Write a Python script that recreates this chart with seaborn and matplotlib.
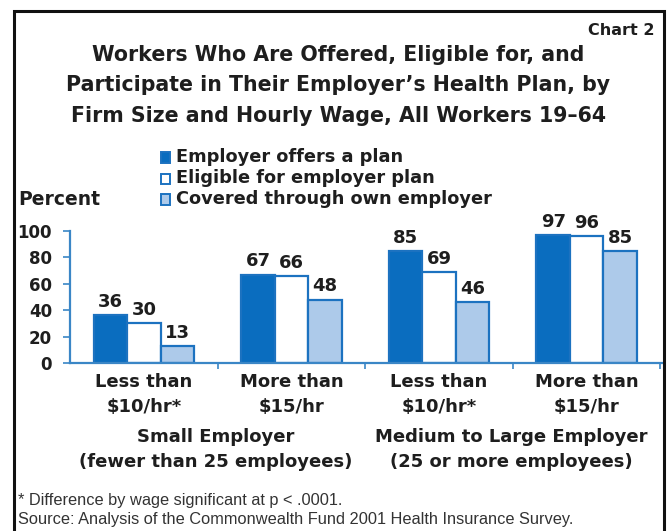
import matplotlib
matplotlib.use("Agg")
import matplotlib.pyplot as plt
from matplotlib.patches import Rectangle
from matplotlib.ticker import FixedLocator
import seaborn as sns
import pandas as pd

# Chart data
categories = ["Less than\n$10/hr*", "More than\n$15/hr", "Less than\n$10/hr*", "More than\n$15/hr"]
series = ["Employer offers a plan", "Eligible for employer plan", "Covered through own employer"]
offers = [36, 67, 85, 97]
eligible = [30, 66, 69, 96]
covered = [13, 48, 46, 85]
group_labels = ["Small Employer\n(fewer than 25 employees)",
                "Medium to Large Employer\n(25 or more employees)"]
y_ticks = [0, 20, 40, 60, 80, 100]

sns.set_theme(style="white")
plt.rcParams["font.family"] = ["DejaVu Sans"]
note_font = ["Liberation Sans", "DejaVu Sans"]

dark = "#0a6dbf"
light = "#adcaea"
edge = "#1c72c0"
axis_col = "#3a86c6"
ink = "#1e1e1e"
fills = [dark, "#ffffff", light]

# long-form table; x keyed by position so duplicate labels stay separate
rows = []
for i in range(len(categories)):
    for s, vals in zip(series, [offers, eligible, covered]):
        rows.append({"pos": i, "series": s, "value": vals[i]})
df = pd.DataFrame(rows)

fig = plt.figure(figsize=(6.7, 5.31), dpi=100)
ax = fig.add_axes([0.1045, 0.3164, 0.8835, 0.2486])

sns.barplot(data=df, x="pos", y="value", hue="series", hue_order=series,
            palette=fills, width=0.68, gap=0, ax=ax, legend=False,
            edgecolor=edge, linewidth=1.6, saturation=1)

for cont in ax.containers:
    ax.bar_label(cont, fontsize=13, fontweight="bold", color=ink, padding=3)

ax.set_xlim(-0.5, 3.51)
ax.set_ylim(0, 100)
ax.set_xlabel("")
ax.set_ylabel("")
ax.set_yticks(y_ticks)
ax.set_yticklabels([str(t) for t in y_ticks], fontsize=12, fontweight="bold", color=ink)
ax.set_xticks(range(len(categories)))
ax.set_xticklabels(categories, fontsize=13, fontweight="bold", color=ink, linespacing=1.5)
ax.xaxis.set_minor_locator(FixedLocator([0.5, 1.5, 2.5, 3.5]))
ax.tick_params(axis="x", which="major", length=0, pad=7)
ax.tick_params(axis="x", which="minor", length=4, width=1.2, color=axis_col, direction="out", bottom=True)
ax.tick_params(axis="y", length=5, width=1.2, color=axis_col, direction="out", left=True, pad=8)

for side in ["top", "right"]:
    ax.spines[side].set_visible(False)
for side in ["left", "bottom"]:
    ax.spines[side].set_color(axis_col)
    ax.spines[side].set_linewidth(1.6)
ax.patch.set_alpha(0)

# group captions under the wage categories
fig.text(0.322, 0.153, group_labels[0], ha="center", va="center", fontsize=13,
         fontweight="bold", color=ink, linespacing=1.5)
fig.text(0.763, 0.153, group_labels[1], ha="center", va="center", fontsize=13,
         fontweight="bold", color=ink, linespacing=1.5)

# titles
fig.text(0.977, 0.942, "Chart 2", ha="right", va="center", fontsize=11.5,
         fontweight="bold", color=ink)
fig.text(0.505, 0.839,
         "Workers Who Are Offered, Eligible for, and\n"
         "Participate in Their Employer\u2019s Health Plan, by\n"
         "Firm Size and Hourly Wage, All Workers 19\u201364",
         ha="center", va="center", fontsize=14.8, fontweight="bold",
         color=ink, linespacing=1.68)

# legend
leg_y = [0.704, 0.664, 0.625]
for s, f, yy in zip(series, fills, leg_y):
    fig.patches.append(Rectangle((0.24, yy - 0.011), 0.014, 0.02, transform=fig.transFigure,
                                 facecolor=f, edgecolor=edge, linewidth=1.4))
    fig.text(0.262, yy, s, ha="left", va="center", fontsize=12.8, fontweight="bold",
             color=ink)
fig.text(0.027, 0.625, "Percent", ha="left", va="center", fontsize=13.5,
         fontweight="bold", color=ink)

# footnotes
fig.text(0.027, 0.058, "* Difference by wage significant at p < .0001.", ha="left",
         va="center", fontsize=11.8, color="#333333", family=note_font)
fig.text(0.027, 0.022, "Source: Analysis of the Commonwealth Fund 2001 Health Insurance Survey.",
         ha="left", va="center", fontsize=11.8, color="#333333", family=note_font)

# outer frame
fig.patches.append(Rectangle((0.021, -0.05), 0.970, 1.03, transform=fig.transFigure,
                             facecolor="none", edgecolor="#111111", linewidth=2.2))

fig.savefig("out.png", dpi=100)
